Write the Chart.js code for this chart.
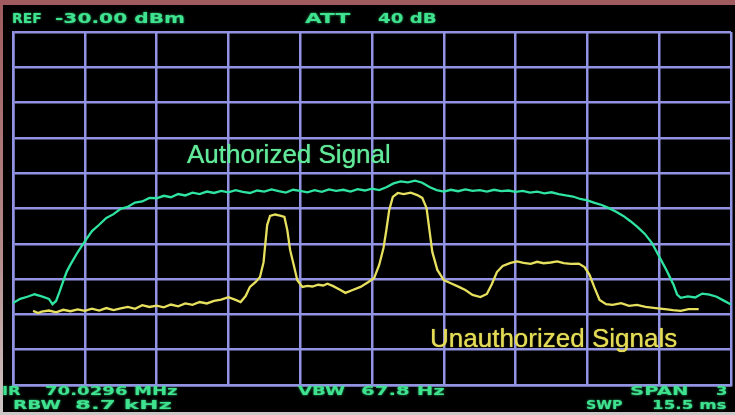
<!DOCTYPE html>
<html>
<head>
<meta charset="utf-8">
<script src="https://cdn.jsdelivr.net/npm/chart.js@4.4.1/dist/chart.umd.min.js"></script>
<style>
  html, body { margin: 0; padding: 0; background: #000; }
  #wrap { position: relative; width: 735px; height: 415px; overflow: hidden; background: #000; }
  #frameTop { position: absolute; left: 0; top: 0; width: 735px; height: 5px; background: #9f5b5d; }
  #frameLeft { position: absolute; left: 0; top: 0; width: 3px; height: 415px;
    background: linear-gradient(#9f5b5d, #b48a8a 60%, #cfc6c6); }
  #frameBottom { position: absolute; left: 0; top: 412px; width: 735px; height: 3px; background: #cbc7c7; }
  canvas { position: absolute; left: 0; top: 0; }
  .lcd { position: absolute; white-space: pre; display: inline-block; transform-origin: 0 50%;
    font-family: "DejaVu Sans", sans-serif; font-weight: bold; color: #3fe28e;
    text-shadow: 0 0 2px rgba(60, 230, 140, 0.8); line-height: 1; }
  .trace-label { position: absolute; white-space: pre; font-family: "Liberation Sans", Arial, sans-serif;
    font-size: 26px; line-height: 1; }
</style>
</head>
<body>
<div id="wrap">
  <canvas id="spec" width="735" height="415"></canvas>
  <div id="frameTop"></div>
  <div id="frameLeft"></div>
  <div id="frameBottom"></div>
</div>
<script>
// Span position in percent of the sweep, level in dBm (REF -30 dBm, 10 dB/div)
const authFreq = [0, 1, 2, 3, 4, 5, 5.5, 6, 6.5, 7, 7.5, 8, 9, 10, 11, 12, 13, 14, 15, 16, 17, 18, 19, 20,
  21, 22, 23, 24, 25, 26, 27, 28, 29, 30, 31, 32, 33, 34, 35, 36, 37, 38, 39, 40, 41, 42, 43, 44, 45,
  46, 47, 48, 49, 50, 51, 52, 53, 54, 55, 56, 57, 58, 59, 60, 61, 62, 63, 64, 65, 66, 67, 68, 69, 70,
  71, 72, 73, 74, 75, 76, 77, 78, 79, 80, 81, 82, 83, 84, 85, 86, 87, 88, 89, 90, 91, 92, 92.5, 93,
  94, 95, 96, 97, 98, 99, 100];
const authLevel = [-106.8, -105.6, -105.0, -104.3, -104.9, -105.6, -107.1, -106.2, -103.5, -100.6, -97.8,
  -95.9, -92.4, -89.3, -86.4, -84.6, -82.7, -81.6, -80.1, -79.5, -78.3, -78.0, -77.0, -77.1,
  -76.4, -76.8, -75.9, -76.3, -75.5, -75.9, -75.2, -75.6, -75.0, -75.4, -74.8, -75.3, -75.6, -74.9,
  -75.2, -74.6, -75.1, -75.5, -74.7, -75.0, -75.4, -74.8, -75.3, -74.6, -75.0, -74.7, -75.2, -74.5,
  -74.9, -74.4, -74.8, -74.0, -72.9, -72.3, -72.6, -72.1, -72.7, -73.9, -74.8, -75.2, -74.7, -75.1,
  -74.6, -75.0, -74.8, -75.2, -74.7, -75.1, -74.9, -75.3, -75.0, -75.5, -75.2, -75.7, -75.4, -75.9,
  -76.3, -76.6, -77.3, -77.7, -78.4, -79.0, -79.9, -80.9, -82.1, -83.6, -85.3, -87.2, -89.8, -93.6,
  -97.4, -101.6, -104.4, -105.3, -104.9, -105.2, -104.1, -104.4, -105.0, -106.1, -107.2];

const unauthFreq = [2.8, 3.5, 4, 5, 6, 7, 8, 9, 10, 11, 12, 13, 14, 15, 16, 17, 18, 19, 20, 21, 22, 23,
  24, 25, 26, 27, 28, 29, 30, 31, 31.7, 32.4, 33, 33.8, 34.4, 34.9, 35.1, 35.4, 35.8, 36.5, 37.2, 37.8,
  38.2, 38.6, 39.1, 39.6, 40.3, 41, 41.7, 42.5, 43.2, 43.8, 44.6, 45.6, 46.3, 47.3, 48.4, 49.5, 50.3,
  51.0, 51.6, 52.0, 52.4, 52.9, 53.6, 54.4, 55.4, 56.3, 57.0, 57.6, 58.0, 58.4, 59.1, 60.0, 60.9,
  62.1, 63.0, 64.0, 65.1, 66.0, 66.7, 67.4, 68.2, 69.3, 70.2, 71.1, 72.1, 73.0, 73.9, 74.9, 75.8,
  76.7, 77.7, 78.8, 79.6, 80.3, 81.0, 81.7, 82.6, 83.5, 84.7, 85.8, 86.9, 88.1, 89.5, 90.8, 91.9,
  93.0, 94.1, 95.5];
const unauthLevel = [-109.0, -109.6, -109.2, -108.9, -109.4, -108.7, -109.1, -108.6, -109.0, -108.4,
  -108.9, -108.2, -108.8, -108.3, -107.9, -108.4, -107.4, -107.9, -107.5, -108.0, -107.2, -107.7,
  -106.9, -107.3, -106.5, -106.9, -106.2, -105.8, -105.1, -105.9, -106.5, -104.8, -102.2, -100.8,
  -99.4, -95.2, -90.9, -84.7, -82.1, -81.7, -82.0, -82.4, -86.1, -91.8, -96.0, -100.3, -102.2,
  -101.9, -102.1, -101.6, -101.8, -101.3, -102.0, -103.1, -103.9, -103.1, -102.2, -100.8, -99.7,
  -96.0, -91.2, -86.1, -80.4, -76.7, -75.6, -75.9, -75.5, -76.2, -77.0, -79.9, -86.1, -92.3, -97.4,
  -100.3, -101.1, -102.2, -103.1, -104.5, -105.1, -104.2, -101.4, -98.0, -96.3, -95.4, -95.0, -95.4,
  -95.7, -95.1, -95.5, -95.3, -95.0, -95.5, -95.7, -95.6, -96.6, -98.8, -102.5, -105.9, -107.1,
  -107.3, -106.8, -107.6, -107.3, -107.9, -108.2, -108.5, -108.8, -109.0, -108.5, -108.5];

// Display settings: reference level, dB per division, divisions
const refLevel = -30;
const dbPerDiv = 10;
const divisions = 10;

const toPoints = (xs, ys) => xs.map((x, i) => ({ x: x, y: ys[i] }));

new Chart(document.getElementById('spec'), {
  type: 'line',
  data: {
    datasets: [
      { label: 'Authorized Signal', data: toPoints(authFreq, authLevel),
        borderColor: '#2fe3a0', borderWidth: 2.3, pointRadius: 0, tension: 0 },
      { label: 'Unauthorized Signals', data: toPoints(unauthFreq, unauthLevel),
        borderColor: '#e6e05e', borderWidth: 2.3, pointRadius: 0, tension: 0 }
    ]
  },
  options: {
    responsive: false,
    animation: false,
    devicePixelRatio: 1,
    layout: { padding: { left: 13, top: 32, right: 4, bottom: 30 } },
    plugins: { legend: { display: false }, tooltip: { enabled: false } },
    scales: {
      x: {
        type: 'linear', min: 0, max: 100,
        ticks: { display: false, stepSize: 100 / divisions },
        grid: { color: '#9393e4', lineWidth: 2.5, drawTicks: false },
        border: { color: '#9393e4', width: 2.5 }
      },
      y: {
        type: 'linear', min: refLevel - dbPerDiv * divisions, max: refLevel,
        ticks: { display: false, stepSize: dbPerDiv },
        grid: { color: '#9393e4', lineWidth: 2.5, drawTicks: false },
        border: { color: '#9393e4', width: 2.5 }
      }
    }
  }
});

// Analyzer annotation text: [text, left, right, centre y, font size]
const lcdTexts = [
  ['REF', 12, 42, 18.5, 13.5], ['-30.00 dBm', 55, 185, 18.5, 13.5],
  ['ATT', 305, 350, 18.5, 13.5], ['40 dB', 378, 436, 18.5, 13.5],
  ['IR', 2, 21, 391, 12], ['70.0296 MHz', 45, 178, 391, 12],
  ['VBW', 298, 345, 391, 12], ['67.8 Hz', 361, 445, 391, 12],
  ['SPAN', 630, 689, 391, 12], ['3', 716, 727, 391, 12],
  ['RBW', 13, 61, 404.5, 12], ['8.7 kHz', 75, 171, 404.5, 12],
  ['SWP', 586, 623, 404.5, 12], ['15.5 ms', 652, 726, 404.5, 12]
];
const wrap = document.getElementById('wrap');
lcdTexts.forEach(([t, x0, x1, cy, size]) => {
  const s = document.createElement('span');
  s.className = 'lcd';
  s.textContent = t;
  s.style.fontSize = size + 'px';
  wrap.appendChild(s);
  const w = s.offsetWidth, h = s.offsetHeight;
  s.style.left = x0 + 'px';
  s.style.top = (cy - h / 2) + 'px';
  s.style.transform = 'scaleX(' + ((x1 - x0) / w).toFixed(3) + ')';
});

// Trace captions
const captions = [
  ['Authorized Signal', 187, 165, '#62e899'],
  ['Unauthorized Signals', 430, 349, '#e3da55']
];
captions.forEach(([t, x, baseline, col]) => {
  const s = document.createElement('span');
  s.className = 'trace-label';
  s.textContent = t;
  s.style.color = col;
  s.style.textShadow = '0 0 1px ' + col;
  s.style.left = x + 'px';
  s.style.top = (baseline - 24) + 'px';
  wrap.appendChild(s);
});
</script>
</body>
</html>
